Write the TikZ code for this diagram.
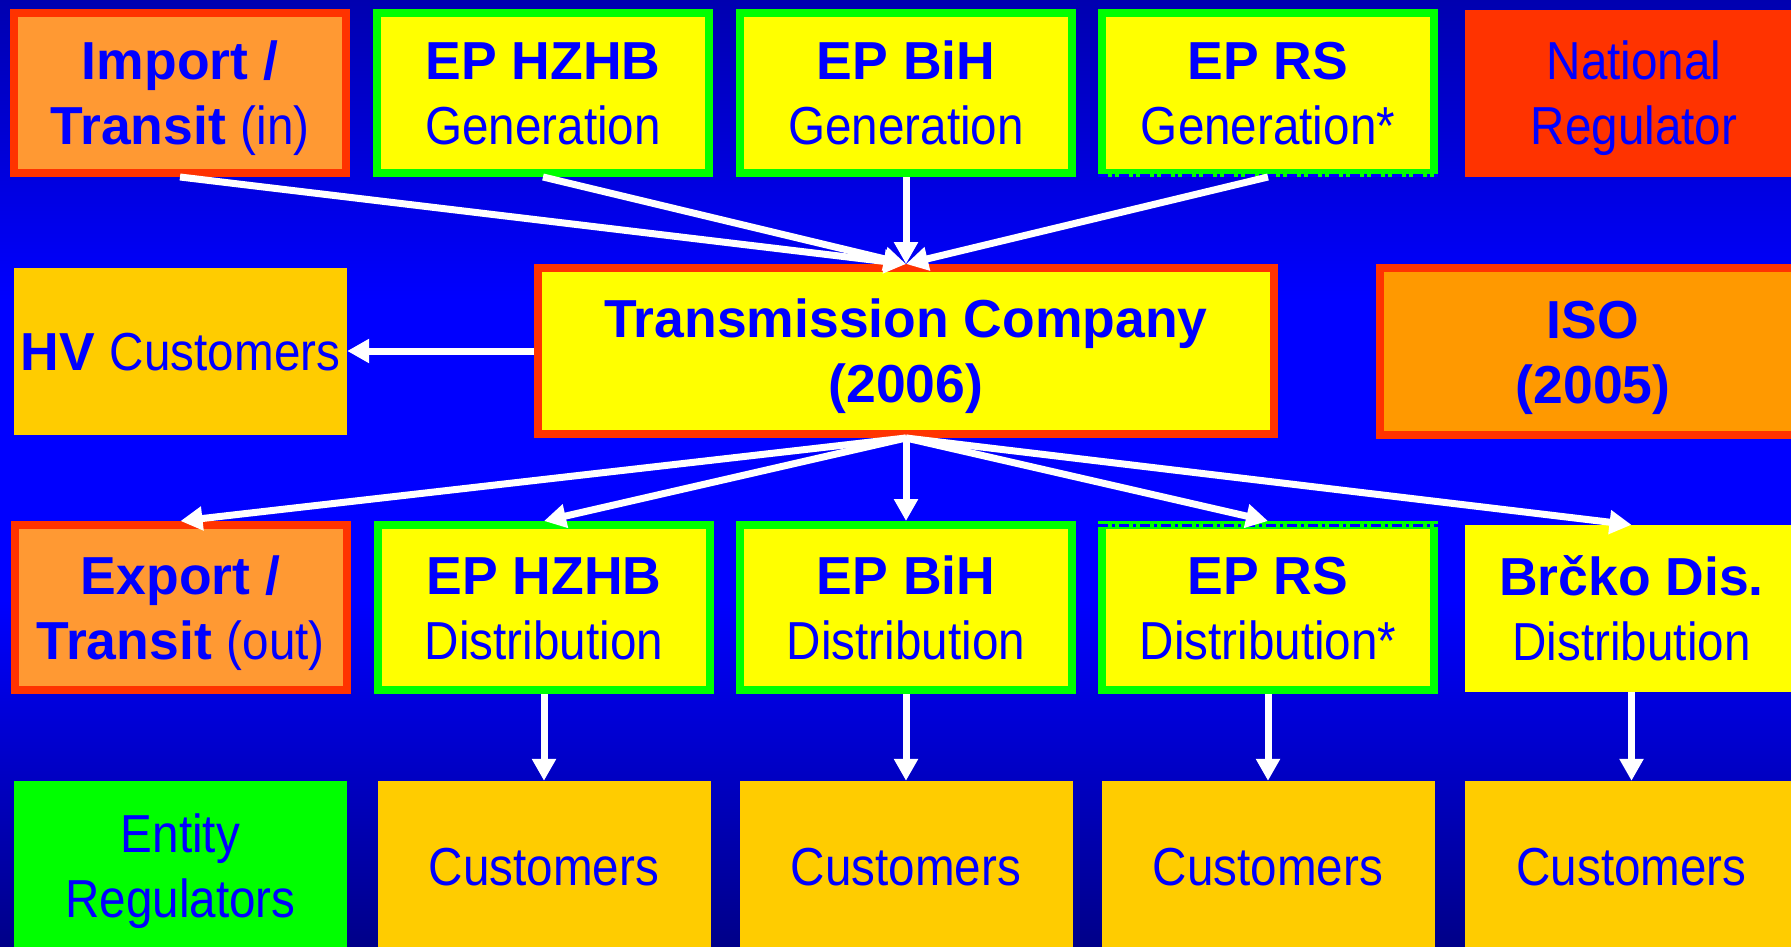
\documentclass[tikz,border=0pt]{standalone}
\usepackage{fontspec}
\setmainfont{Liberation Sans}
\newfontfamily\nar[FakeStretch=0.89]{Liberation Sans}
\usetikzlibrary{arrows.meta}
\definecolor{txtb}{HTML}{0000FF}
\definecolor{orng}{HTML}{FF9933}
\definecolor{redb}{HTML}{FF3300}
\definecolor{yel}{HTML}{FFFF00}
\definecolor{grn}{HTML}{00FF00}
\definecolor{gold}{HTML}{FFCC00}
\definecolor{isoc}{HTML}{FF9900}
\definecolor{bgtop}{HTML}{0000B0}
\definecolor{bgmid}{HTML}{0000FF}
\definecolor{bgbot}{HTML}{000088}
\newcommand\mytop{\rule{0pt}{50pt}}
\newcommand\mybot{\rule[-12pt]{0pt}{0pt}}
\newcommand\bt[1]{\textbf{#1}}
\tikzset{
  lbl/.style={text=txtb, font=\fontsize{53.5}{65}\selectfont, align=center, inner sep=0pt},
  bbox/.style={lbl, draw=#1, line width=8pt, minimum width=332pt},
  pbox/.style={lbl, minimum width=333pt},
  arr/.style={draw=white, line width=7pt, -{Triangle[width=23pt,length=22pt]}},
  rsline/.style={draw=txtb, line width=3pt, dash pattern=on 10pt off 4pt on 3pt off 4pt}
}
\begin{document}
\begin{tikzpicture}[x=1pt,y=-1pt]
\useasboundingbox (0,0) rectangle (1791,947);
\clip (0,0) rectangle (1791,947);
% background
\shade[top color=bgtop, bottom color=bgmid] (0,0) rectangle (1791,300);
\fill[bgmid] (0,299) rectangle (1791,601);
\shade[top color=bgmid, bottom color=bgbot] (0,600) rectangle (1791,947);

% row 1
\node[bbox=redb, fill=orng, minimum height=160pt] (imp) at (180,93)
  {\mytop\bt{Import /}\\\bt{Transit} {\nar(in)}\mybot};
\node[bbox=grn, fill=yel, minimum height=160pt] (hzg) at (543,93)
  {\mytop\bt{EP HZHB}\\{\nar Generation}\mybot};
\node[bbox=grn, fill=yel, minimum height=160pt] (bihg) at (906,93)
  {\mytop\bt{EP BiH}\\{\nar Generation}\mybot};
\node[bbox=grn, fill=yel, minimum height=160pt] (rsg) at (1268,93)
  {\mytop\bt{EP RS}\\{\nar Generation*}\mybot};
\node[pbox, fill=redb, minimum width=338pt, minimum height=167pt] (nreg) at (1634,93.5)
  {\mytop{\nar National}\\{\nar Regulator}\mybot};

% row 2
\node[pbox, fill=gold, minimum height=167pt] (hv) at (180.5,351)
  {\mytop\bt{HV} {\nar Customers}\mybot};
\node[bbox=redb, fill=yel, minimum width=736pt, minimum height=166pt] (tc) at (906,351)
  {\mytop\bt{Transmission Company}\\\bt{(2006)}\mybot};
\node[bbox=redb, fill=isoc, minimum width=426pt, minimum height=167pt] (iso) at (1593,351.5)
  {\mytop\bt{ISO}\\\bt{(2005)}\mybot};

% row 3
\node[bbox=redb, fill=orng, minimum height=165pt] (exp) at (180.5,607.5)
  {\mytop\bt{Export /}\\\bt{Transit} {\nar(out)}\mybot};
\node[bbox=grn, fill=yel, minimum height=165pt] (hzd) at (544,607.5)
  {\mytop\bt{EP HZHB}\\{\nar Distribution}\mybot};
\node[bbox=grn, fill=yel, minimum height=165pt] (bihd) at (906,607.5)
  {\mytop\bt{EP BiH}\\{\nar Distribution}\mybot};
\node[bbox=grn, fill=yel, minimum height=165pt] (rsd) at (1268,607.5)
  {\mytop\bt{EP RS}\\{\nar Distribution*}\mybot};
\node[pbox, fill=yel, minimum height=167pt] (brd) at (1631.5,608.5)
  {\mytop\bt{Brčko Dis.}\\{\nar Distribution}\mybot};

% row 4
\node[pbox, fill=grn, minimum height=170pt] (ent) at (180.5,866)
  {\mytop{\nar Entity}\\{\nar Regulators}\mybot};
\node[pbox, fill=gold, minimum height=170pt] (c1) at (544,866) {\mytop{\nar Customers}\mybot};
\node[pbox, fill=gold, minimum height=170pt] (c2) at (906,866) {\mytop{\nar Customers}\mybot};
\node[pbox, fill=gold, minimum height=170pt] (c3) at (1268,866) {\mytop{\nar Customers}\mybot};
\node[pbox, fill=gold, minimum height=170pt] (c4) at (1631.5,866) {\mytop{\nar Customers}\mybot};

% dash-dot marks on EP RS boxes
\draw[rsline] ([yshift=1.5pt]rsg.south west) -- ([yshift=1.5pt]rsg.south east);
\draw[rsline] ([yshift=-4pt]rsd.north west) -- ([yshift=-4pt]rsd.north east);

% arrows into transmission
\draw[arr] (imp.south) -- (tc.north);
\draw[arr] (hzg.south) -- (tc.north);
\draw[arr] (bihg.south) -- (tc.north);
\draw[arr] (rsg.south) -- (tc.north);
% transmission to HV
\draw[arr] (tc.west) -- (tc.west -| hv.east);
% arrows out of transmission
\draw[arr] (tc.south) -- (exp.north);
\draw[arr] (tc.south) -- (hzd.north);
\draw[arr] (tc.south) -- (bihd.north);
\draw[arr] (tc.south) -- (rsd.north);
\draw[arr] (tc.south) -- (brd.north);
% distribution to customers
\draw[arr] (hzd.south) -- (c1.north);
\draw[arr] (bihd.south) -- (c2.north);
\draw[arr] (rsd.south) -- (c3.north);
\draw[arr] (brd.south) -- (c4.north);
\end{tikzpicture}
\end{document}
